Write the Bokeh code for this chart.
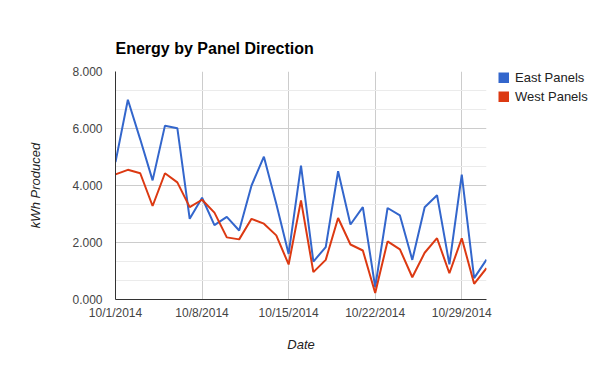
import datetime as dt
from bokeh.plotting import figure
from bokeh.models import FixedTicker, CustomJSTickFormatter, Legend, LegendItem, Range1d, ColumnDataSource
from bokeh.embed import file_html
from bokeh.resources import INLINE

days = list(range(1, 32))
east = [4820, 7010, 5620, 4180, 6100, 6010, 2830, 3570, 2610, 2900, 2420, 4000,
        5010, 3360, 1600, 4700, 1330, 1840, 4500, 2630, 3240, 430, 3210, 2950,
        1390, 3240, 3660, 1230, 4380, 750, 1400]
west = [4390, 4550, 4430, 3280, 4430, 4110, 3240, 3500, 3050, 2180, 2110, 2830,
        2660, 2250, 1230, 3480, 960, 1390, 2860, 1930, 1720, 230, 2040, 1760,
        780, 1640, 2150, 920, 2150, 550, 1100]
series_names = ["East Panels", "West Panels"]
x_tick_days = [1, 8, 15, 22, 29]
y_ticks = [0, 2000, 4000, 6000, 8000]
y_minor = [667, 1333, 2667, 3333, 4667, 5333, 6667, 7333]

dates = [dt.datetime(2014, 10, d) for d in days]
epoch = dt.datetime(1970, 1, 1)
def ms(d):
    return (dt.datetime(2014, 10, d) - epoch).total_seconds() * 1000.0

FONT = "Liberation Sans"
BLUE = "#3366cc"
RED = "#dc3912"

p = figure(frame_width=371, frame_height=228, x_axis_type="datetime",
           x_range=Range1d(dates[0], dates[-1]), y_range=Range1d(0, 8000),
           output_backend="svg", toolbar_location=None,
           min_border_left=115, min_border_right=10, min_border_top=71, min_border_bottom=64)
p.outline_line_color = None
p.background_fill_color = "white"
p.border_fill_color = "white"

src = ColumnDataSource(dict(x=dates, east=east, west=west))
r1 = p.line("x", "east", source=src, line_color=BLUE, line_width=2)
r2 = p.line("x", "west", source=src, line_color=RED, line_width=2)

# legend swatches: thick lines on an off-screen range, shown only as squares in the legend
p.extra_y_ranges = {"swatch": Range1d(100000, 108000)}
s1 = p.line("x", "east", source=src, line_color=BLUE, line_width=11, line_cap="butt", y_range_name="swatch")
s2 = p.line("x", "west", source=src, line_color=RED, line_width=11, line_cap="butt", y_range_name="swatch")

p.title.text = "Energy by Panel Direction"
p.title.text_font = FONT
p.title.text_font_size = "16px"
p.title.text_font_style = "bold"
p.title.text_color = "#000000"
p.title.align = "left"
p.title.standoff = 29

xax = p.xaxis[0]
xax.ticker = FixedTicker(ticks=[ms(d) for d in x_tick_days])
xax.formatter = CustomJSTickFormatter(code="""
const d = new Date(tick);
return (d.getUTCMonth()+1) + '/' + d.getUTCDate() + '/' + d.getUTCFullYear();
""")
xax.axis_label = "Date"
yax = p.yaxis[0]
yax.ticker = FixedTicker(ticks=y_ticks, minor_ticks=y_minor)
yax.formatter = CustomJSTickFormatter(code="return (tick/1000).toFixed(3);")
yax.axis_label = "kWh Produced"

for ax in (xax, yax):
    ax.axis_line_color = "#333333"
    ax.axis_line_width = 1
    ax.major_tick_line_color = None
    ax.minor_tick_line_color = None
    ax.major_label_text_font = FONT
    ax.major_label_text_font_size = "12px"
    ax.major_label_text_color = "#444444"
    ax.axis_label_text_font = FONT
    ax.axis_label_text_font_size = "13px"
    ax.axis_label_text_font_style = "italic"
    ax.axis_label_text_color = "#222222"
xax.major_label_standoff = 0
xax.axis_label_standoff = 14
yax.major_label_standoff = 7
yax.axis_label_standoff = 26

p.xgrid.grid_line_color = "#cccccc"
p.ygrid.grid_line_color = "#cccccc"
p.ygrid.minor_grid_line_color = "#ebebeb"

legend = Legend(items=[LegendItem(label=series_names[0], renderers=[s1]),
                       LegendItem(label=series_names[1], renderers=[s2])],
                location=(12, 195), margin=0, padding=0, spacing=4,
                glyph_width=11, glyph_height=11, label_height=13, label_standoff=6,
                label_text_font=FONT, label_text_font_size="13px", label_text_color="#222222",
                border_line_color=None, background_fill_alpha=0)
p.add_layout(legend, "right")

open("out.html", "w").write(file_html(p, INLINE))
